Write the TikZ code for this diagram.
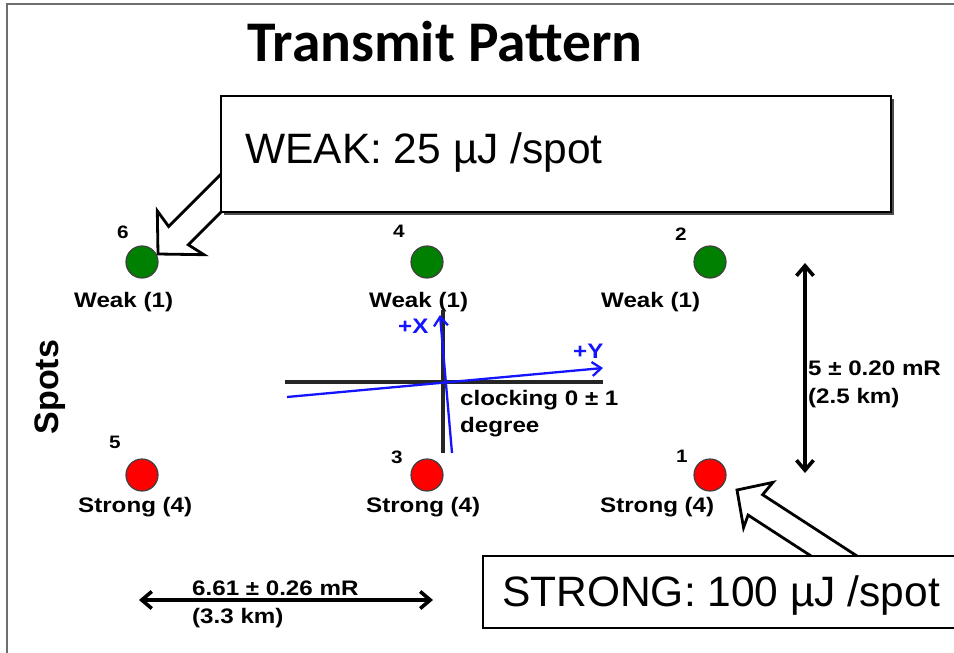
\documentclass[tikz,border=0pt]{standalone}
\usepackage{fontspec}
\setmainfont{Liberation Sans}
\newfontfamily\titlefont{Carlito}
\usetikzlibrary{arrows.meta}
\newcommand\wx[1]{\scalebox{1.15}[1]{#1}}
\definecolor{spotgreen}{RGB}{0,128,0}
\definecolor{spotred}{RGB}{255,0,0}
\definecolor{axisblue}{RGB}{20,20,255}
\definecolor{framegray}{RGB}{110,110,110}
\begin{document}
\begin{tikzpicture}[x=1pt,y=-1pt,
  lbl/.style={font=\bfseries\fontsize{21}{25}\selectfont, inner sep=0pt, anchor=base west},
  num/.style={font=\bfseries\fontsize{18}{21}\selectfont, inner sep=0pt, anchor=base west},
  big/.style={font=\fontsize{42.5}{50}\selectfont, inner sep=0pt, anchor=base west},
  spotw/.style={circle, minimum size=32pt, inner sep=0pt, draw=black!75, line width=1.2pt, fill=spotgreen},
  spotr/.style={circle, minimum size=32pt, inner sep=0pt, draw=black!75, line width=1.2pt, fill=spotred},
  dimarrow/.style={line width=3.6pt, {Straight Barb[length=10pt,width=17pt]}-{Straight Barb[length=10pt,width=17pt]}},
  bluearrow/.style={draw=axisblue, line width=2.3pt, -{Straight Barb[length=9pt,width=14pt]}},
  blackaxis/.style={draw=black!85, line width=3.2pt},
  blockarrow/.style={draw=black, fill=white, line width=2.8pt, line join=miter},
  callout/.style={draw=black, fill=white, line width=1.6pt, inner sep=0pt, anchor=north west}
]
\useasboundingbox (0,0) rectangle (954,653);
\clip (0,0) rectangle (954,653);
\fill[white] (0,0) rectangle (954,653);

% frame
\draw[framegray, line width=2pt] (7,660) -- (7,4) -- (960,4);

% title
\node[font=\titlefont\bfseries\fontsize{57.5}{62}\selectfont, inner sep=0pt, anchor=base] (title) at (445,61) {Transmit Pattern};

% Spots label
\node[font=\bfseries\fontsize{34}{40}\selectfont, inner sep=0pt, anchor=base, rotate=90] (spotslbl) at (58,387) {Spots};

% spots
\node[spotw] (s6) at (142,262) {};
\node[spotw] (s4) at (427,262) {};
\node[spotw] (s2) at (710,262) {};
\node[spotr] (s5) at (142,475) {};
\node[spotr] (s3) at (427,475) {};
\node[spotr] (s1) at (710,475) {};

% numbers
\node[num] (n6) at (117,238) {\wx{6}};
\node[num] (n4) at (393,237) {\wx{4}};
\node[num] (n2) at (675,240) {\wx{2}};
\node[num] (n5) at (109,448) {\wx{5}};
\node[num] (n3) at (391,463) {\wx{3}};
\node[num] (n1) at (676,462) {\wx{1}};

% spot labels
\node[lbl] (l6) at (74,307) {\wx{Weak (1)}};
\node[lbl] (l4) at (369,307) {\wx{Weak (1)}};
\node[lbl] (l2) at (601,307) {\wx{Weak (1)}};
\node[lbl] (l5) at (78,512) {\wx{Strong (4)}};
\node[lbl] (l3) at (366,512) {\wx{Strong (4)}};
\node[lbl] (l1) at (600,512) {\wx{Strong (4)}};

% axes
\coordinate (hL) at (285,382);
\coordinate (hR) at (603,382);
\coordinate (vT) at (443,310);
\coordinate (vB) at (443,453);
\draw[blackaxis] (hL) -- (hR);
\draw[blackaxis] (vT) -- (vB);
\coordinate (xB) at (452,453);
\coordinate (xT) at (440,315);
\coordinate (yL) at (287,397);
\coordinate (yR) at (603,368);
\draw[bluearrow] (xB) -- (xT);
\draw[bluearrow] (yL) -- (yR);
\node[lbl, text=axisblue] (plusx) at (398,333) {\wx{+X}};
\node[lbl, text=axisblue] (plusy) at (573,358) {\wx{+Y}};
\node[lbl] (clk1) at (460,405) {\wx{clocking 0 ± 1}};
\node[lbl] (clk2) at (460,432) {\wx{degree}};

% vertical dimension
\coordinate (dvT) at (805,263);
\coordinate (dvB) at (805,473);
\draw[dimarrow] (dvT) -- (dvB);
\node[lbl] (dv1) at (808,375) {\wx{5 ± 0.20 mR}};
\node[lbl] (dv2) at (808,403) {\wx{(2.5 km)}};

% horizontal dimension
\coordinate (dhL) at (139,600);
\coordinate (dhR) at (433,600);
\draw[dimarrow] (dhL) -- (dhR);
\node[lbl] (dh1) at (192,595) {\wx{6.61 ± 0.26 mR}};
\node[lbl] (dh2) at (192,623) {\wx{(3.3 km)}};

% block arrow to spot 6
\begin{scope}[shift={(158,254)}, rotate=45]
  \draw[blockarrow] (0,0) -- (30,-31) -- (27,-12) -- (110,-12) -- (110,15) -- (28,15) -- (32,33) -- cycle;
\end{scope}
% block arrow to spot 1
\begin{scope}[shift={(737,490)}, rotate=-33]
  \draw[blockarrow] (0,0) -- (26,-26) -- (24,-10) -- (150,-10) -- (150,15) -- (23,15) -- (26,28) -- cycle;
\end{scope}

% weak callout with shadow
\fill[black!70] (224,99) rectangle (894,215);
\node[callout, minimum width=670pt, minimum height=116pt] (weakbox) at (220,95) {};
\node[big] (weaktext) at (245,163) {WEAK: 25 µJ /spot};

% strong callout
\node[callout, minimum width=480pt, minimum height=72pt] (strongbox) at (482,555) {};
\node[big] (strongtext) at (502,606) {STRONG: 100 µJ /spot};
\end{tikzpicture}
\end{document}
